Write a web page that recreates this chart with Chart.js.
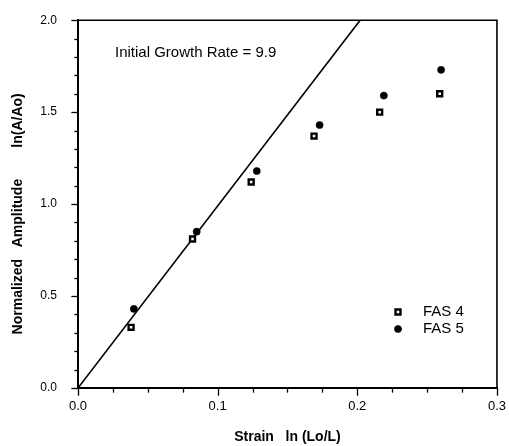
<!DOCTYPE html>
<html>
<head>
<meta charset="utf-8">
<title>Initial Growth Rate</title>
<script src="https://cdn.jsdelivr.net/npm/chart.js@4/dist/chart.umd.min.js"></script>
<style>
  html, body { margin: 0; padding: 0; background: #fff; }
  #wrap { width: 509px; height: 446px; position: relative; }
</style>
</head>
<body>
<div id="wrap"><canvas id="growthChart"></canvas></div>
<script>
// Measured strain / amplitude pairs
const fas4Strain = [0.038, 0.082, 0.124, 0.169, 0.216, 0.259];
const fas4Amp    = [0.33, 0.81, 1.12, 1.37, 1.50, 1.60];
const fas5Strain = [0.040, 0.085, 0.128, 0.173, 0.219, 0.260];
const fas5Amp    = [0.43, 0.85, 1.18, 1.43, 1.59, 1.73];

// Initial growth rate line (slope through origin)
const growthRate = 9.9;
const fitStrain = [0, 2.0 / growthRate];

const seriesNames = ['FAS 4', 'FAS 5'];
const xTickLabels = ['0.0', '0.1', '0.2', '0.3'];
const yTickLabels = ['0.0', '0.5', '1.0', '1.5', '2.0'];

const FONT = "'Liberation Sans', Arial, Helvetica, sans-serif";
Chart.defaults.font.family = FONT;
Chart.defaults.color = '#000';

const toPoints = (xs, ys) => xs.map((x, i) => ({ x: x, y: ys[i] }));

// Frame, tick marks, annotation and legend
const framePlugin = {
    id: 'frame',
    afterDraw(chart) {
        const { ctx, chartArea: a, scales } = chart;
        ctx.save();
        ctx.strokeStyle = '#000';
        ctx.lineCap = 'square';

        // left + bottom axes
        ctx.lineWidth = 2;
        ctx.beginPath();
        ctx.moveTo(a.left, a.top);
        ctx.lineTo(a.left, a.bottom);
        ctx.lineTo(a.right, a.bottom);
        ctx.stroke();

        // top + right border
        ctx.lineWidth = 1.6;
        ctx.beginPath();
        ctx.moveTo(a.left, a.top);
        ctx.lineTo(a.right, a.top);
        ctx.lineTo(a.right, a.bottom);
        ctx.stroke();

        // x ticks every 0.025, major every 0.1
        ctx.lineWidth = 1.3;
        for (let i = 0; i <= 12; i++) {
            const px = Math.round(scales.x.getPixelForValue(i * 0.025)) + 0.5;
            const len = i % 4 === 0 ? 7 : 4;
            ctx.beginPath();
            ctx.moveTo(px, a.bottom);
            ctx.lineTo(px, a.bottom + len);
            ctx.stroke();
        }
        // y ticks every 0.1, major every 0.5
        for (let i = 0; i <= 20; i++) {
            const py = Math.round(scales.y.getPixelForValue(i * 0.1)) + 0.5;
            const len = i % 5 === 0 ? 6 : 3;
            ctx.beginPath();
            ctx.moveTo(a.left, py);
            ctx.lineTo(a.left - len, py);
            ctx.stroke();
        }

        // annotation
        ctx.fillStyle = '#000';
        ctx.font = '15px ' + FONT;
        ctx.textAlign = 'left';
        ctx.textBaseline = 'middle';
        ctx.fillText('Initial Growth Rate = ' + growthRate.toFixed(1), 115, 53);

        // legend
        const lx = 398, ly = [312, 329];
        chart.data.datasets.slice(0, 2).forEach((ds, i) => {
            ctx.fillStyle = ds.backgroundColor;
            ctx.strokeStyle = ds.borderColor;
            ctx.lineWidth = ds.borderWidth;
            Chart.helpers.drawPoint(ctx, {
                pointStyle: ds.pointStyle,
                radius: ds.pointRadius,
                rotation: 0,
                borderWidth: ds.borderWidth
            }, lx, ly[i]);
            ctx.fillStyle = '#000';
            ctx.fillText(ds.label, 423, ly[i]);
        });
        ctx.restore();
    }
};

new Chart(document.getElementById('growthChart'), {
    type: 'scatter',
    data: {
        datasets: [{
            label: seriesNames[0],
            data: toPoints(fas4Strain, fas4Amp),
            pointStyle: 'rect',
            pointRadius: 3.5,
            borderWidth: 2.4,
            borderColor: '#000',
            backgroundColor: '#fff'
        }, {
            label: seriesNames[1],
            data: toPoints(fas5Strain, fas5Amp),
            pointStyle: 'circle',
            pointRadius: 3.6,
            borderWidth: 0.5,
            borderColor: '#000',
            backgroundColor: '#000'
        }, {
            label: 'Growth rate',
            data: toPoints(fitStrain, fitStrain.map(x => x * growthRate)),
            showLine: true,
            pointRadius: 0,
            borderWidth: 1.6,
            borderColor: '#000',
            backgroundColor: '#000'
        }]
    },
    options: {
        responsive: true,
        maintainAspectRatio: false,
        animation: false,
        layout: { padding: { top: 13, right: 11, left: 0, bottom: 0 } },
        plugins: {
            legend: { display: false },
            tooltip: { enabled: false }
        },
        scales: {
            x: {
                type: 'linear',
                min: 0,
                max: 0.3,
                grid: { display: false },
                border: { display: false },
                afterFit: s => { s.height = 58; },
                ticks: {
                    stepSize: 0.1,
                    autoSkip: false,
                    maxRotation: 0,
                    padding: 3,
                    font: { size: 13 },
                    callback: (v, i) => xTickLabels[i]
                },
                title: {
                    display: true,
                    text: 'Strain   ln (Lo/L)',
                    font: { size: 14, weight: 'bold' },
                    padding: { top: 0, bottom: 0 }
                }
            },
            y: {
                type: 'linear',
                min: 0,
                max: 2.0,
                grid: { display: false },
                border: { display: false },
                afterFit: s => { s.width = 78; },
                ticks: {
                    stepSize: 0.5,
                    autoSkip: false,
                    padding: 13,
                    font: { size: 12 },
                    callback: (v, i) => yTickLabels[i]
                },
                title: {
                    display: true,
                    text: 'Normalized   Amplitude        ln(A/Ao)     ',
                    font: { size: 14, weight: 'bold' },
                    padding: { top: 10, bottom: 0 }
                }
            }
        }
    },
    plugins: [framePlugin]
});
</script>
</body>
</html>
